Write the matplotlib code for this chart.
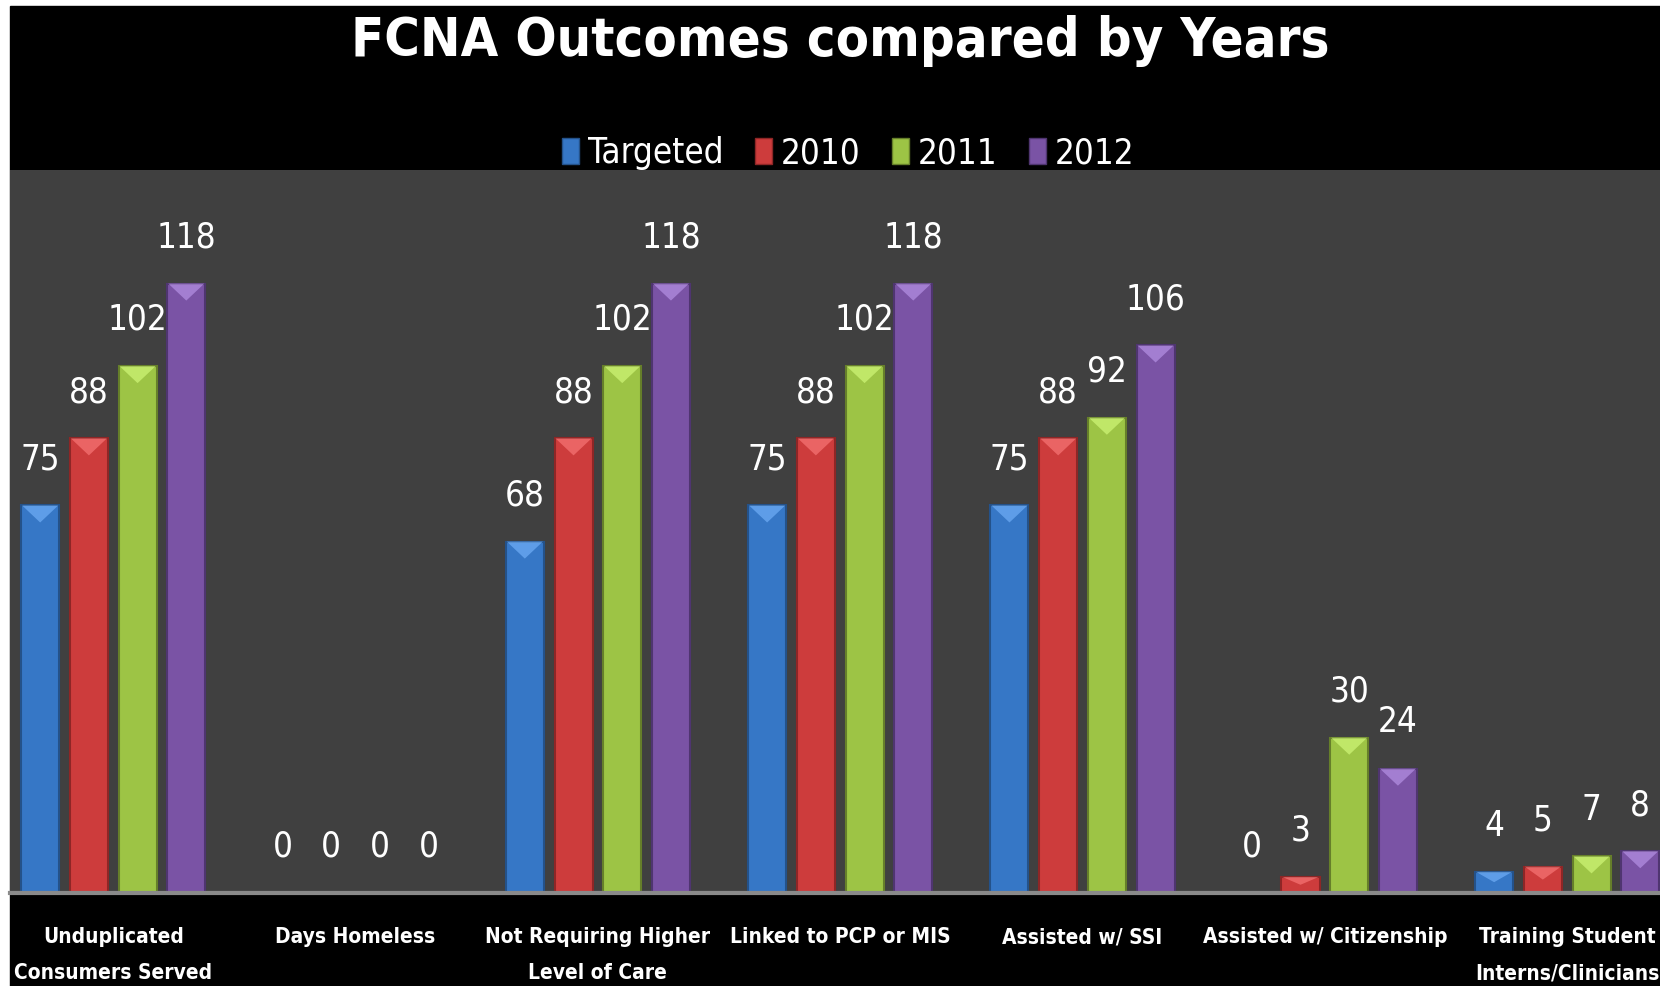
import numpy as np
import matplotlib
matplotlib.use('Agg')
import matplotlib.pyplot as plt
from matplotlib.patches import Rectangle, Polygon, Patch

# Chart data
categories = ['Unduplicated\nConsumers Served', 'Days Homeless', 'Not Requiring Higher\nLevel of Care',
              'Linked to PCP or MIS', 'Assisted w/ SSI', 'Assisted w/ Citizenship',
              'Training Student\nInterns/Clinicians']
series_names = ['Targeted', '2010', '2011', '2012']
targeted = [75, 0, 68, 75, 75, 0, 4]
y2010 = [88, 0, 88, 88, 88, 3, 5]
y2011 = [102, 0, 102, 102, 92, 30, 7]
y2012 = [118, 0, 118, 118, 106, 24, 8]

colors = ['#3677c6', '#cd3c3c', '#9dc445', '#7a53a5']
edges = ['#24528a', '#8e2626', '#667f2a', '#4f3570']
lights = ['#7ab8ff', '#ff8080', '#d8ff80', '#c09cf0']

plt.rcParams['font.family'] = ['DejaVu Sans']
plt.rcParams['font.stretch'] = 'condensed'

W, H = 1660, 986
fig = plt.figure(figsize=(W / 100, H / 100), dpi=100, facecolor='white')
fig.add_artist(Rectangle((10 / W, 0), 1 - 10 / W, (H - 6) / H, transform=fig.transFigure,
                         color='black', zorder=0))

ax = fig.add_axes([10 / W, (H - 892.5) / H, 1 - 10 / W, (892.5 - 170) / H])
ax.set_facecolor('#404040')

x = np.arange(len(categories))
pitch = 0.201
width = 0.157
all_series = [targeted, y2010, y2011, y2012]
for i, vals in enumerate(all_series):
    bars = ax.bar(x + (i - 1.5) * pitch, vals, width, color=colors[i], edgecolor=edges[i],
                  linewidth=1.5, zorder=2)
    # lighter bevel on the top of each bar
    for b in bars:
        h = b.get_height()
        if h <= 0:
            continue
        x0 = b.get_x()
        x1 = x0 + b.get_width()
        d = min(3.3, h * 0.5)
        ax.add_patch(Polygon([(x0 + 0.004, h), (x1 - 0.004, h), ((x0 + x1) / 2, h - d)],
                             closed=True, color=lights[i], alpha=0.6, lw=0, zorder=3))
    ax.bar_label(bars, padding=21, color='white', fontsize=25)

ax.set_xlim(-0.426, 6.383)
ax.set_ylim(0, 140)
ax.set_yticks([])
ax.set_xticks(x)
ax.set_xticklabels(categories, color='white', fontsize=15, fontweight='bold', linespacing=2.0)
ax.tick_params(axis='x', length=0, pad=25)
for s in ['top', 'left', 'right']:
    ax.spines[s].set_visible(False)
ax.spines['bottom'].set_color('#8a8a8a')
ax.spines['bottom'].set_linewidth(3)

fig.text(840 / W, 1 - 41 / H, 'FCNA Outcomes compared by Years', color='white', fontsize=39,
         fontweight='bold', ha='center', va='center')

handles = [Patch(facecolor=colors[i], edgecolor=edges[i], label=series_names[i]) for i in range(4)]
leg = fig.legend(handles=handles, loc='center', bbox_to_anchor=(848 / W, 1 - 153 / H), ncol=4,
                 frameon=False, fontsize=25, handlelength=0.5, handleheight=0.75,
                 handletextpad=0.25, columnspacing=0.9)
for t in leg.get_texts():
    t.set_color('white')

fig.savefig('out.png', dpi=100, facecolor=fig.get_facecolor())
